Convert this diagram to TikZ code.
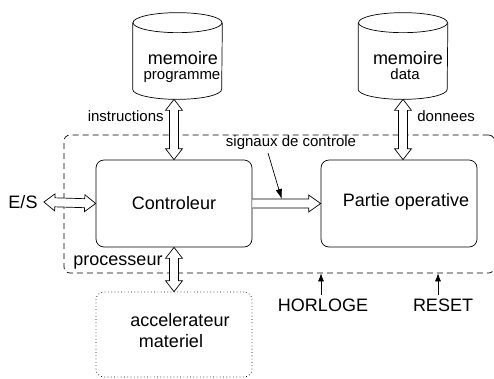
\documentclass[tikz,border=0pt]{standalone}
\usepackage{fontspec}
\setmainfont{Liberation Sans}
\usetikzlibrary{calc,arrows.meta}
\newcommand\fbig{\fontsize{18}{20}\selectfont}
\newcommand\fsmall{\fontsize{15}{17}\selectfont}
\newcommand\dblarr[2]{%
  \coordinate (ap) at ($(#1)!11pt!(#2)$);
  \coordinate (aq) at ($(#2)!11pt!(#1)$);
  \draw[blk] (#1) -- ($(ap)!8.5pt!-90:(#2)$) -- ($(ap)!4.5pt!-90:(#2)$) -- ($(aq)!4.5pt!90:(#1)$) -- ($(aq)!8.5pt!90:(#1)$) -- (#2) -- ($(aq)!8.5pt!-90:(#1)$) -- ($(aq)!4.5pt!-90:(#1)$) -- ($(ap)!4.5pt!90:(#2)$) -- ($(ap)!8.5pt!90:(#2)$) -- cycle;}
\newcommand\sglarr[2]{%
  \coordinate (aq) at ($(#2)!12pt!(#1)$);
  \draw[blk] ($(#1)!4.5pt!90:(#2)$) -- ($(aq)!4.5pt!-90:(#1)$) -- ($(aq)!8.5pt!-90:(#1)$) -- (#2) -- ($(aq)!8.5pt!90:(#1)$) -- ($(aq)!4.5pt!90:(#1)$) -- ($(#1)!4.5pt!-90:(#2)$);}
\newcommand\cylshape[1]{%
  \draw ($(#1.north west)+(0,-10pt)$) -- ($(#1.south west)+(0,10pt)$) arc[start angle=180,end angle=360,x radius=44.5pt,y radius=10pt] -- ($(#1.north east)+(0,-10pt)$);
  \draw ($(#1.north)+(0,-10pt)$) ellipse[x radius=44.5pt,y radius=10pt];}
\begin{document}
\begin{tikzpicture}[x=1pt,y=-1pt,line width=0.7pt,
  box/.style={draw,rounded corners=8pt,minimum width=156pt,minimum height=87pt,inner sep=0pt},
  cylbox/.style={minimum width=89pt,minimum height=86pt,inner sep=0pt},
  blk/.style={draw,fill=white,line join=miter},
  lbl/.style={inner sep=0pt,font=\fbig},
  slbl/.style={inner sep=0pt,font=\fsmall},
  tip/.style={-{Latex[length=8pt,width=6pt]}}]
\useasboundingbox (0,0) rectangle (494,378);
% processor frame
\node[draw,dash pattern=on 6pt off 4pt,rounded corners=6pt,minimum width=430.5pt,minimum height=138pt,inner sep=0pt] (proc) at (279.25,204) {};
\node[lbl] (proclbl) at (118,263) {processeur};
% memories
\node[cylbox] (mp) at (177.5,56) {};
\cylshape{mp}
\node[lbl] (mpt1) at (183,58) {memoire};
\node[slbl] (mpt2) at (182,77) {programme};
\node[cylbox] (md) at (403,56) {};
\cylshape{md}
\node[lbl] (mdt1) at (408,58) {memoire};
\node[slbl] (mdt2) at (405,74.5) {data};
% main boxes
\node[box,font=\fbig] (ctrl) at (174,203.5) {Controleur};
\node[box] (po) at (399,203.5) {};
\node[lbl] (pot) at (406,202) {Partie operative};
\node[draw,dash pattern=on 0.7pt off 2.6pt,rounded corners=8pt,minimum width=156pt,minimum height=85pt,inner sep=0pt] (acc) at (174,334.5) {};
\node[lbl] (acct1) at (180,320) {accelerateur};
\node[lbl] (acct2) at (171,341) {materiel};
% connections
\coordinate (i1) at (ctrl.north |- mp.south);
\dblarr{i1}{ctrl.north}
\coordinate (d1) at (md.south |- po.north);
\dblarr{md.south}{d1}
\node[slbl,anchor=east] (ins) at (164,116) {instructions};
\node[slbl,anchor=west] (don) at (417,116) {donnees};
\node[lbl] (es) at (23,202) {E/S};
\coordinate (e1) at ($(es.east)+(6pt,0)$);
\dblarr{e1}{ctrl.west}
\dblarr{ctrl.south}{acc.north}
\sglarr{ctrl.east}{po.west}
\node[slbl] (sig) at (291,143) {signaux de controle};
\coordinate (s1) at (268,153);
\coordinate (s2) at ($(ctrl.east)!0.43!(po.west)+(0,4.5pt)$);
\draw[-{Latex[length=10pt,width=6.5pt]}] (s1) -- (s2);
\node[lbl] (hor) at (323,305) {HORLOGE};
\coordinate (h0) at (321,295);
\draw[tip] (h0) -- (h0 |- proc.south);
\node[lbl] (rst) at (443,305) {RESET};
\coordinate (r0) at (438,295);
\draw[tip] (r0) -- (r0 |- proc.south);
\end{tikzpicture}
\end{document}
